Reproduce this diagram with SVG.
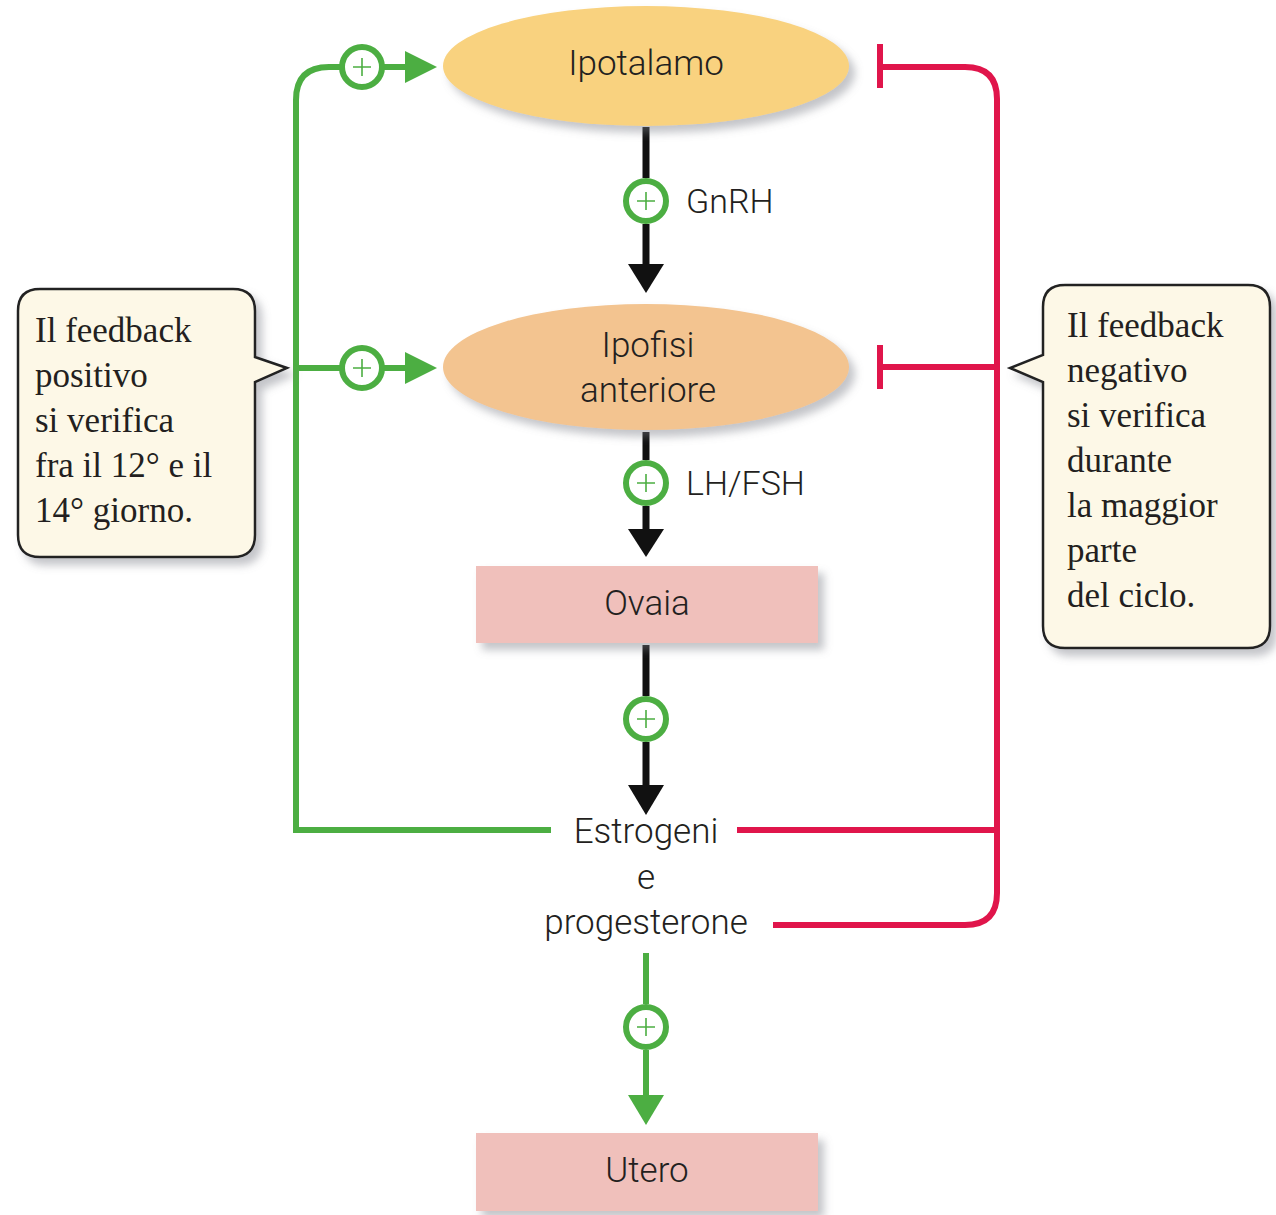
<svg xmlns="http://www.w3.org/2000/svg" width="1276" height="1215" viewBox="0 0 1276 1215">
<defs>
  <filter id="sh" x="-20%" y="-20%" width="140%" height="150%">
    <feDropShadow dx="6" dy="7" stdDeviation="4" flood-color="#7a7f88" flood-opacity="0.45"/>
  </filter>
  <style>
    .lbl{font-family:Roboto,"Liberation Sans",Arial,sans-serif;font-weight:300;font-size:35px;fill:#231f20;text-anchor:middle}
    .hl{font-family:Roboto,"Liberation Sans",Arial,sans-serif;font-weight:300;font-size:34px;fill:#231f20}
    .note{font-family:"Liberation Serif","Times New Roman",serif;font-size:35px;fill:#231f20}
    .blk{stroke:#111;stroke-width:7;fill:none}
    .grn{stroke:#4cae42;stroke-width:6;fill:none}
    .red{stroke:#e0154b;stroke-width:6;fill:none}
    .plus circle{fill:#fff;stroke:#4cae42;stroke-width:6}
    .plus path{stroke:#4cae42;stroke-width:1.6;fill:none}
    .callout{fill:#fdf8e7;stroke:#222;stroke-width:2.5}
  </style>
  <g id="plusSym" class="plus">
    <circle cx="0" cy="0" r="20"/>
    <path d="M-9 0H9M0 -9V9"/>
  </g>
</defs>
<rect width="1276" height="1215" fill="#fff"/>

<!-- connectors -->
<g id="connectors">
  <path class="blk" d="M646 127V178M646 224V266"/>
  <polygon points="628,264 664,264 646,293" fill="#111"/>
  <path class="blk" d="M646 432V460M646 506V531"/>
  <polygon points="628,529 664,529 646,557" fill="#111"/>
  <path class="blk" d="M646 645V696M646 742V787"/>
  <polygon points="628,785 664,785 646,815" fill="#111"/>
  <path class="grn" d="M646 953V1004M646 1050V1097"/>
  <polygon points="628,1095 664,1095 646,1125" fill="#4cae42"/>
  <path class="grn" d="M551 830H296V100Q296 67 329 67H341M383 67H407"/>
  <polygon points="405,51 437,67 405,83" fill="#4cae42"/>
  <path class="grn" d="M296 368H341M383 368H407"/>
  <polygon points="405,352 437,368 405,384" fill="#4cae42"/>
  <path class="red" d="M880 67H965Q997 67 997 99V893Q997 925 965 925H773"/>
  <path class="red" d="M880 367H997M737 830H997"/>
  <path class="red" d="M880 44V88M880 345V389"/>
  <use href="#plusSym" x="362" y="67"/>
  <use href="#plusSym" x="362" y="368"/>
  <use href="#plusSym" x="646" y="201"/>
  <use href="#plusSym" x="646" y="483"/>
  <use href="#plusSym" x="646" y="719"/>
  <use href="#plusSym" x="646" y="1027"/>
  <text class="hl" x="686" y="213">GnRH</text>
  <text class="hl" x="686" y="495">LH/FSH</text>
</g>

<g id="ipotalamo">
  <ellipse cx="646" cy="66" rx="203" ry="60" fill="#f9d27f" filter="url(#sh)"/>
  <text class="lbl" x="646" y="75">Ipotalamo</text>
</g>
<g id="ipofisi">
  <ellipse cx="646" cy="367" rx="203" ry="63" fill="#f3c490" filter="url(#sh)"/>
  <text class="lbl" x="648" y="357">Ipofisi</text>
  <text class="lbl" x="648" y="402">anteriore</text>
</g>
<g id="ovaia">
  <rect x="476" y="566" width="342" height="77" fill="#f0c0bb" filter="url(#sh)"/>
  <text class="lbl" x="647" y="615">Ovaia</text>
</g>
<g id="ormoni">
  <text class="lbl" x="646" y="843">Estrogeni</text>
  <text class="lbl" x="646" y="889">e</text>
  <text class="lbl" x="646" y="934">progesterone</text>
</g>
<g id="utero">
  <rect x="476" y="1133" width="342" height="78" fill="#f0c0bb" filter="url(#sh)"/>
  <text class="lbl" x="647" y="1182">Utero</text>
</g>

<g id="nota-positivo">
  <path class="callout" filter="url(#sh)" d="M40 289H233Q255 289 255 311V357L287 368L255 382V535Q255 557 233 557H40Q18 557 18 535V311Q18 289 40 289Z"/>
  <text class="note" x="35" y="342">Il feedback</text>
  <text class="note" x="35" y="387">positivo</text>
  <text class="note" x="35" y="432">si verifica</text>
  <text class="note" x="35" y="477">fra il 12° e il</text>
  <text class="note" x="35" y="522">14° giorno.</text>
</g>
<g id="nota-negativo">
  <path class="callout" filter="url(#sh)" d="M1065 285H1248Q1270 285 1270 307V626Q1270 648 1248 648H1065Q1043 648 1043 626V382L1010 368L1043 355V307Q1043 285 1065 285Z"/>
  <text class="note" x="1067" y="337">Il feedback</text>
  <text class="note" x="1067" y="382">negativo</text>
  <text class="note" x="1067" y="427">si verifica</text>
  <text class="note" x="1067" y="472">durante</text>
  <text class="note" x="1067" y="517">la maggior</text>
  <text class="note" x="1067" y="562">parte</text>
  <text class="note" x="1067" y="607">del ciclo.</text>
</g>
</svg>
